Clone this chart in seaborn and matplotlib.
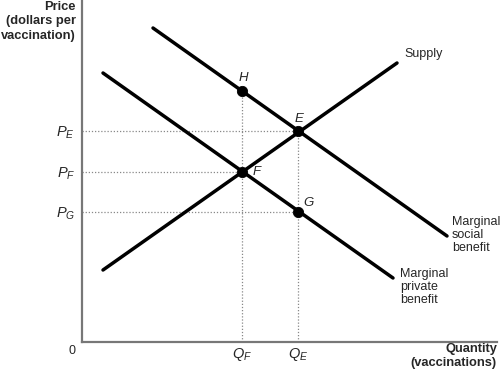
import numpy as np
import pandas as pd
import matplotlib
matplotlib.use("Agg")
import matplotlib.pyplot as plt
import seaborn as sns

# curve endpoints (quantity, price) in chart units
supply_q = [21, 315]
supply_p = [72, 279]
msb_q = [71, 365]
msb_p = [314, 106]
mpb_q = [21, 311]
mpb_p = [269, 64]

# labelled points
point_names = ["H", "E", "F", "G"]
point_q = [160, 216, 160, 216]
point_p = [251, 211, 170, 130]

# tick positions on the axes
price_labels = ["$P_E$", "$P_F$", "$P_G$"]
price_vals = [211, 170, 130]
qty_labels = ["$Q_F$", "$Q_E$"]
qty_vals = [160, 216]

sns.set_style("white")
plt.rcParams["font.family"] = ["Liberation Sans", "DejaVu Sans"]
plt.rcParams["mathtext.fontset"] = "custom"
plt.rcParams["mathtext.it"] = "Liberation Sans:italic"
plt.rcParams["mathtext.rm"] = "Liberation Sans"

fig = plt.figure(figsize=(5.02, 3.74), dpi=100)
ax = fig.add_axes([82 / 502, 32 / 374, 415 / 502, 342 / 374])
ax.set_xlim(0, 415)
ax.set_ylim(0, 342)

# dotted guide lines
for p, q in zip(price_vals, [216, 160, 216]):
    ax.plot([0, q], [p, p], ls=(0, (1, 1.5)), color="#888888", lw=0.9, zorder=1)
ax.plot([160, 160], [0, 251], ls=(0, (1, 1.5)), color="#888888", lw=0.9, zorder=1)
ax.plot([216, 216], [0, 211], ls=(0, (1, 1.5)), color="#888888", lw=0.9, zorder=1)

curves = pd.concat([
    pd.DataFrame({"q": supply_q, "p": supply_p, "curve": "Supply"}),
    pd.DataFrame({"q": msb_q, "p": msb_p, "curve": "MSB"}),
    pd.DataFrame({"q": mpb_q, "p": mpb_p, "curve": "MPB"}),
])
sns.lineplot(data=curves, x="q", y="p", units="curve", estimator=None,
             color="black", lw=2.5, sort=False, ax=ax, zorder=3)

sns.scatterplot(x=point_q, y=point_p, color="black", s=55, edgecolor="black",
                ax=ax, zorder=4)

ax.text(161, 258, "H", style="italic", fontsize=9.5, ha="center", va="bottom")
ax.text(217, 217, "E", style="italic", fontsize=9.5, ha="center", va="bottom")
ax.text(171, 170, "F", style="italic", fontsize=9.5, ha="left", va="center")
ax.text(221, 139, "G", style="italic", fontsize=9.5, ha="left", va="center")

ax.text(322, 288, "Supply", fontsize=9, ha="left", va="center")
ax.text(370, 126, "Marginal\nsocial\nbenefit", fontsize=9, ha="left",
        va="top", linespacing=1.1)
ax.text(318, 74, "Marginal\nprivate\nbenefit", fontsize=9, ha="left",
        va="top", linespacing=1.1)

ax.set_xticks(qty_vals)
ax.set_xticklabels(qty_labels, fontsize=10.5)
ax.set_yticks(price_vals)
ax.set_yticklabels(price_labels, fontsize=10.5)
ax.tick_params(axis="y", length=0, pad=5)
ax.tick_params(axis="x", length=0, pad=3)
ax.set_xlabel("")
ax.set_ylabel("")

for side in ["top", "right"]:
    ax.spines[side].set_visible(False)
for side in ["left", "bottom"]:
    ax.spines[side].set_color("#777777")
    ax.spines[side].set_linewidth(1.6)

fig.text(76 / 502, 1 - 1 / 374, "Price\n(dollars per\nvaccination)",
         fontsize=9.3, fontweight="bold", ha="right", va="top",
         linespacing=1.25)
fig.text(497 / 502, 1 - 343 / 374, "Quantity\n(vaccinations)",
         fontsize=9.3, fontweight="bold", ha="right", va="top",
         linespacing=1.25)
fig.text(72 / 502, 1 - 351 / 374, "0", fontsize=9, ha="center", va="center")

fig.savefig("out.png", dpi=100, facecolor="white")
